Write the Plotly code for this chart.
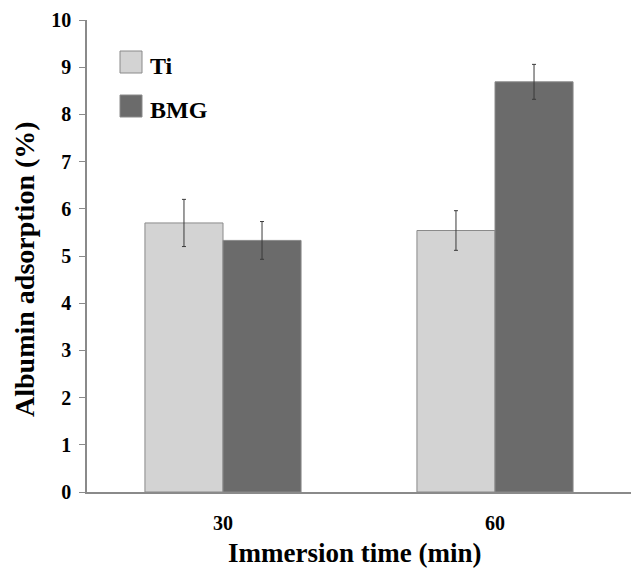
import plotly.graph_objects as go

categories = ["30", "60"]
series_names = ["Ti", "BMG"]
ti_values = [5.70, 5.54]
ti_errors = [0.50, 0.42]
bmg_values = [5.33, 8.69]
bmg_errors = [0.40, 0.37]
y_ticks = [0, 1, 2, 3, 4, 5, 6, 7, 8, 9, 10]
x_title = "Immersion time (min)"
y_title = "Albumin adsorption (%)"

colors = ["#d3d3d3", "#6b6b6b"]
FONT = "Liberation Serif, Times New Roman, serif"

fig = go.Figure()
for name, vals, errs, col in zip(series_names, [ti_values, bmg_values], [ti_errors, bmg_errors], colors):
    fig.add_trace(go.Bar(
        x=categories, y=vals, name=name,
        marker=dict(color=col, line=dict(color="#8a8a8a", width=1)),
        error_y=dict(type="data", array=errs, visible=True, color="#3a3a3a", thickness=1, width=2),
        showlegend=False,
    ))

W, H = 631, 568
L, R, T, B = 87, 0, 20, 76
pw, ph = W - L - R, H - T - B

def px(x):
    return (x - L) / pw

def py(y):
    return (H - B - y) / ph

shapes = []
annotations = []
swatches = [(51, 73), (95, 117)]
for (top, bot), name, col in zip(swatches, series_names, colors):
    shapes.append(dict(type="rect", xref="paper", yref="paper",
                       x0=px(120), x1=px(142), y0=py(bot), y1=py(top),
                       fillcolor=col, line=dict(color="#8a8a8a", width=1)))
    annotations.append(dict(xref="paper", yref="paper", x=px(148), y=py((top + bot) / 2 + 4),
                            text="<b>%s</b>" % name, showarrow=False, xanchor="left", yanchor="middle",
                            font=dict(family=FONT, size=24, color="black")))

annotations.append(dict(xref="paper", yref="paper", x=px(354), y=py(553),
                        text="<b>%s</b>" % x_title, showarrow=False, xanchor="center", yanchor="middle",
                        font=dict(family=FONT, size=27, color="black")))
annotations.append(dict(xref="paper", yref="paper", x=px(24), y=py(269), textangle=-90,
                        text="<b>%s</b>" % y_title, showarrow=False, xanchor="center", yanchor="middle",
                        font=dict(family=FONT, size=28, color="black")))

fig.update_layout(
    width=W, height=H,
    margin=dict(l=L, r=R, t=T, b=B, pad=0),
    plot_bgcolor="white", paper_bgcolor="white",
    barmode="group", bargap=0.426, bargroupgap=0,
    font=dict(family=FONT, color="black"),
    shapes=shapes, annotations=annotations,
    xaxis=dict(
        type="category", range=[-0.5, 1.5], automargin=False,
        showline=True, linecolor="#8a8a8a", linewidth=1.5,
        ticks="", showgrid=False,
        tickfont=dict(family=FONT, size=20, color="black"),
        ticklabelstandoff=12,
        tickprefix="<b>", ticksuffix="</b>",
    ),
    yaxis=dict(
        range=[0, 10], tickvals=y_ticks, automargin=False,
        ticktext=["<b>%d</b>" % v for v in y_ticks],
        showline=True, linecolor="#8a8a8a", linewidth=1.5,
        ticks="outside", ticklen=6, tickcolor="#8a8a8a",
        showgrid=False, zeroline=False,
        tickfont=dict(family=FONT, size=20, color="black"),
        ticklabelstandoff=4,
    ),
)

fig.write_html("out.html", config={"displayModeBar": False},
               post_script="document.body.style.margin='0';document.body.style.overflow='hidden';")
